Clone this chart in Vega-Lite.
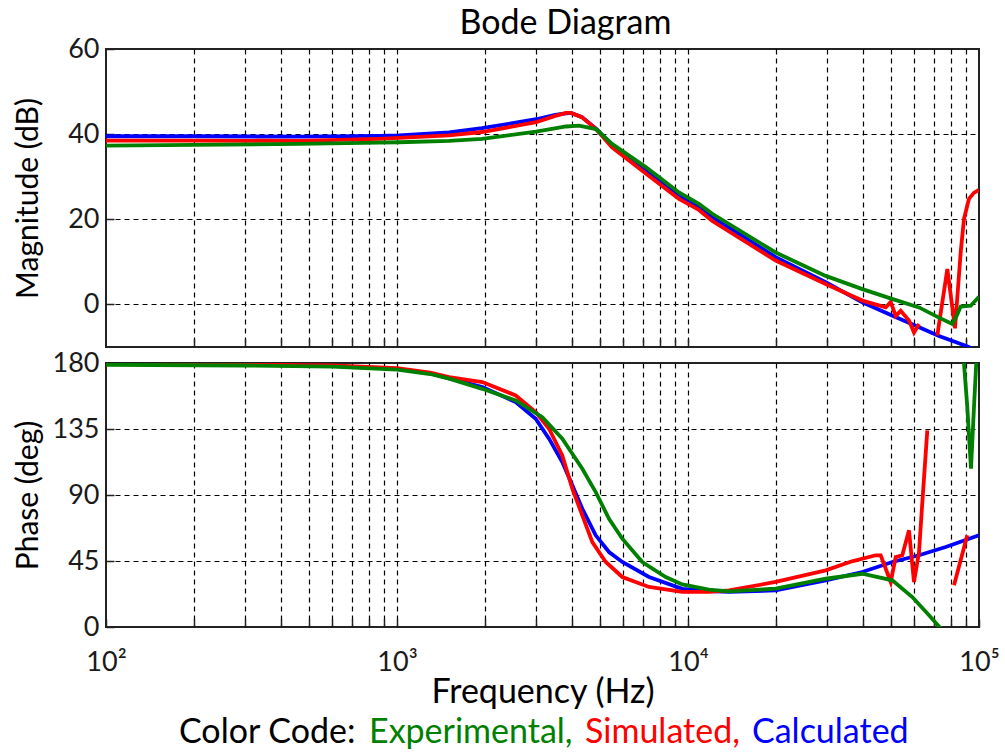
{
  "$schema": "https://vega.github.io/schema/vega-lite/v6.json",
  "padding": {"left": 11, "top": 6, "right": 20, "bottom": 2},
  "config": {
    "font": "Lato",
    "view": {"stroke": "#222", "strokeWidth": 2},
    "axis": {"labelFont": "Lato", "titleFont": "Lato", "labelColor": "#1a1a1a", "titleColor": "#000", "labelFontSize": 27, "titleFontSize": 30, "titleFontWeight": "normal", "gridColor": "#000", "gridDash": [5, 4], "gridWidth": 1.2, "domain": false, "ticks": true, "tickSize": -8, "tickColor": "#222", "tickWidth": 1.5}
  },
  "datasets": {
    "mag": [
      {"s":"Calculated","seg":"a","f":100,"v":39.5},{"s":"Calculated","seg":"a","f":200,"v":39.5},{"s":"Calculated","seg":"a","f":460,"v":39.4},{"s":"Calculated","seg":"a","f":867,"v":39.6},{"s":"Calculated","seg":"a","f":1016,"v":39.7},{"s":"Calculated","seg":"a","f":1510,"v":40.4},{"s":"Calculated","seg":"a","f":1960,"v":41.4},{"s":"Calculated","seg":"a","f":3005,"v":43.5},{"s":"Calculated","seg":"a","f":3500,"v":44.5},{"s":"Calculated","seg":"a","f":3810,"v":44.9},{"s":"Calculated","seg":"a","f":3963,"v":45.0},{"s":"Calculated","seg":"a","f":4320,"v":44.0},{"s":"Calculated","seg":"a","f":4830,"v":41.3},{"s":"Calculated","seg":"a","f":5480,"v":37.5},{"s":"Calculated","seg":"a","f":7180,"v":31.5},{"s":"Calculated","seg":"a","f":9310,"v":25.6},{"s":"Calculated","seg":"a","f":10900,"v":22.9},{"s":"Calculated","seg":"a","f":12120,"v":20.5},{"s":"Calculated","seg":"a","f":20010,"v":11.1},{"s":"Calculated","seg":"a","f":29730,"v":5.2},{"s":"Calculated","seg":"a","f":39720,"v":0.5},{"s":"Calculated","seg":"a","f":50230,"v":-2.6},{"s":"Calculated","seg":"a","f":60610,"v":-5.0},{"s":"Calculated","seg":"a","f":72860,"v":-7.4},{"s":"Calculated","seg":"a","f":90000,"v":-9.7},{"s":"Calculated","seg":"a","f":100000,"v":-11},
      {"s":"Simulated","seg":"a","f":100,"v":38.5},{"s":"Simulated","seg":"a","f":200,"v":38.5},{"s":"Simulated","seg":"a","f":460,"v":38.4},{"s":"Simulated","seg":"a","f":867,"v":38.9},{"s":"Simulated","seg":"a","f":1016,"v":39.1},{"s":"Simulated","seg":"a","f":1510,"v":39.7},{"s":"Simulated","seg":"a","f":1960,"v":40.5},{"s":"Simulated","seg":"a","f":3005,"v":42.8},{"s":"Simulated","seg":"a","f":3500,"v":44.3},{"s":"Simulated","seg":"a","f":3810,"v":45.0},{"s":"Simulated","seg":"a","f":3963,"v":45.0},{"s":"Simulated","seg":"a","f":4320,"v":44.0},{"s":"Simulated","seg":"a","f":4830,"v":41.2},{"s":"Simulated","seg":"a","f":5480,"v":36.9},{"s":"Simulated","seg":"a","f":7180,"v":30.7},{"s":"Simulated","seg":"a","f":9310,"v":24.8},{"s":"Simulated","seg":"a","f":10900,"v":22.2},{"s":"Simulated","seg":"a","f":12120,"v":19.6},{"s":"Simulated","seg":"a","f":20010,"v":10.3},{"s":"Simulated","seg":"a","f":29730,"v":4.8},{"s":"Simulated","seg":"a","f":39720,"v":0.9},{"s":"Simulated","seg":"a","f":47800,"v":-0.7},{"s":"Simulated","seg":"a","f":49730,"v":0.6},{"s":"Simulated","seg":"a","f":51720,"v":-2.7},{"s":"Simulated","seg":"a","f":53810,"v":-1.5},{"s":"Simulated","seg":"a","f":57470,"v":-3.8},{"s":"Simulated","seg":"a","f":59790,"v":-6.6},{"s":"Simulated","seg":"a","f":62220,"v":-4.6},
      {"s":"Simulated","seg":"b","f":71900,"v":-7.3},{"s":"Simulated","seg":"b","f":77840,"v":8.3},{"s":"Simulated","seg":"b","f":82700,"v":-5.6},{"s":"Simulated","seg":"b","f":86500,"v":12.2},{"s":"Simulated","seg":"b","f":88800,"v":20.1},{"s":"Simulated","seg":"b","f":92380,"v":24.8},{"s":"Simulated","seg":"b","f":96000,"v":26.2},{"s":"Simulated","seg":"b","f":100000,"v":26.9},
      {"s":"Experimental","seg":"a","f":100,"v":37.3},{"s":"Experimental","seg":"a","f":200,"v":37.5},{"s":"Experimental","seg":"a","f":460,"v":37.7},{"s":"Experimental","seg":"a","f":867,"v":38.0},{"s":"Experimental","seg":"a","f":1016,"v":38.1},{"s":"Experimental","seg":"a","f":1510,"v":38.4},{"s":"Experimental","seg":"a","f":1960,"v":38.9},{"s":"Experimental","seg":"a","f":3005,"v":40.6},{"s":"Experimental","seg":"a","f":3810,"v":41.8},{"s":"Experimental","seg":"a","f":4220,"v":42.0},{"s":"Experimental","seg":"a","f":4830,"v":41.2},{"s":"Experimental","seg":"a","f":5480,"v":37.7},{"s":"Experimental","seg":"a","f":7180,"v":32.2},{"s":"Experimental","seg":"a","f":9310,"v":26.3},{"s":"Experimental","seg":"a","f":10900,"v":23.6},{"s":"Experimental","seg":"a","f":12120,"v":21.3},{"s":"Experimental","seg":"a","f":20010,"v":12.2},{"s":"Experimental","seg":"a","f":29730,"v":6.7},{"s":"Experimental","seg":"a","f":39720,"v":3.6},{"s":"Experimental","seg":"a","f":50230,"v":1.3},{"s":"Experimental","seg":"a","f":62220,"v":-0.7},{"s":"Experimental","seg":"a","f":72860,"v":-3.1},{"s":"Experimental","seg":"a","f":80950,"v":-4.6},{"s":"Experimental","seg":"a","f":84000,"v":-2.5},{"s":"Experimental","seg":"a","f":86500,"v":-0.5},{"s":"Experimental","seg":"a","f":93660,"v":-0.3},{"s":"Experimental","seg":"a","f":100000,"v":1.8}
    ],
    "phase": [
      {"s":"Calculated","seg":"a","f":100,"v":179.5},{"s":"Calculated","seg":"a","f":300,"v":179},{"s":"Calculated","seg":"a","f":600,"v":178},{"s":"Calculated","seg":"a","f":1000,"v":176},{"s":"Calculated","seg":"a","f":1300,"v":173},{"s":"Calculated","seg":"a","f":1510,"v":169.5},{"s":"Calculated","seg":"a","f":1964,"v":163.6},{"s":"Calculated","seg":"a","f":2557,"v":153.4},{"s":"Calculated","seg":"a","f":2996,"v":142},{"s":"Calculated","seg":"a","f":3330,"v":128.4},{"s":"Calculated","seg":"a","f":3698,"v":112.5},{"s":"Calculated","seg":"a","f":4004,"v":96.6},{"s":"Calculated","seg":"a","f":4333,"v":80.6},{"s":"Calculated","seg":"a","f":4818,"v":62.5},{"s":"Calculated","seg":"a","f":5352,"v":51.1},{"s":"Calculated","seg":"a","f":5946,"v":44.3},{"s":"Calculated","seg":"a","f":7345,"v":34.1},{"s":"Calculated","seg":"a","f":9559,"v":26},{"s":"Calculated","seg":"a","f":11810,"v":24.5},{"s":"Calculated","seg":"a","f":13830,"v":23.9},{"s":"Calculated","seg":"a","f":20010,"v":25},{"s":"Calculated","seg":"a","f":29730,"v":31.8},{"s":"Calculated","seg":"a","f":39720,"v":37.5},{"s":"Calculated","seg":"a","f":50370,"v":44.3},{"s":"Calculated","seg":"a","f":62220,"v":48.9},{"s":"Calculated","seg":"a","f":76840,"v":54.5},{"s":"Calculated","seg":"a","f":100000,"v":62.5},
      {"s":"Simulated","seg":"a","f":100,"v":179.5},{"s":"Simulated","seg":"a","f":300,"v":179},{"s":"Simulated","seg":"a","f":600,"v":178.3},{"s":"Simulated","seg":"a","f":1000,"v":176.5},{"s":"Simulated","seg":"a","f":1300,"v":173.5},{"s":"Simulated","seg":"a","f":1510,"v":170.4},{"s":"Simulated","seg":"a","f":1964,"v":167},{"s":"Simulated","seg":"a","f":2557,"v":157.9},{"s":"Simulated","seg":"a","f":2996,"v":146.6},{"s":"Simulated","seg":"a","f":3330,"v":135.2},{"s":"Simulated","seg":"a","f":3698,"v":117},{"s":"Simulated","seg":"a","f":4004,"v":94.3},{"s":"Simulated","seg":"a","f":4333,"v":76.1},{"s":"Simulated","seg":"a","f":4691,"v":57.9},{"s":"Simulated","seg":"a","f":5215,"v":44.3},{"s":"Simulated","seg":"a","f":5946,"v":34.1},{"s":"Simulated","seg":"a","f":7345,"v":27.3},{"s":"Simulated","seg":"a","f":9559,"v":23.9},{"s":"Simulated","seg":"a","f":11810,"v":23.9},{"s":"Simulated","seg":"a","f":13830,"v":25},{"s":"Simulated","seg":"a","f":20010,"v":30.7},{"s":"Simulated","seg":"a","f":29730,"v":38.6},{"s":"Simulated","seg":"a","f":36610,"v":44.8},{"s":"Simulated","seg":"a","f":44160,"v":48.9},{"s":"Simulated","seg":"a","f":45940,"v":48.9},{"s":"Simulated","seg":"a","f":49730,"v":30.7},{"s":"Simulated","seg":"a","f":51720,"v":47.7},{"s":"Simulated","seg":"a","f":54500,"v":48.9},{"s":"Simulated","seg":"a","f":57470,"v":65.9},{"s":"Simulated","seg":"a","f":59790,"v":30.7},{"s":"Simulated","seg":"a","f":62220,"v":51.1},{"s":"Simulated","seg":"a","f":63870,"v":85.2},{"s":"Simulated","seg":"a","f":66430,"v":134},
      {"s":"Simulated","seg":"b","f":82060,"v":28.4},{"s":"Simulated","seg":"b","f":91150,"v":62.5},
      {"s":"Experimental","seg":"a","f":100,"v":178.8},{"s":"Experimental","seg":"a","f":300,"v":178.3},{"s":"Experimental","seg":"a","f":600,"v":177.5},{"s":"Experimental","seg":"a","f":1000,"v":175.5},{"s":"Experimental","seg":"a","f":1300,"v":172.5},{"s":"Experimental","seg":"a","f":1510,"v":169.3},{"s":"Experimental","seg":"a","f":1964,"v":162.4},{"s":"Experimental","seg":"a","f":2557,"v":154.5},{"s":"Experimental","seg":"a","f":3158,"v":143.1},{"s":"Experimental","seg":"a","f":3698,"v":128.4},{"s":"Experimental","seg":"a","f":4333,"v":107.9},{"s":"Experimental","seg":"a","f":4818,"v":92},{"s":"Experimental","seg":"a","f":5352,"v":73.8},{"s":"Experimental","seg":"a","f":5946,"v":60.2},{"s":"Experimental","seg":"a","f":6966,"v":44.3},{"s":"Experimental","seg":"a","f":8383,"v":34.1},{"s":"Experimental","seg":"a","f":9559,"v":29},{"s":"Experimental","seg":"a","f":11810,"v":25.5},{"s":"Experimental","seg":"a","f":13830,"v":24.3},{"s":"Experimental","seg":"a","f":20010,"v":26.1},{"s":"Experimental","seg":"a","f":29730,"v":32.9},{"s":"Experimental","seg":"a","f":39720,"v":36.3},{"s":"Experimental","seg":"a","f":50370,"v":31.8},{"s":"Experimental","seg":"a","f":58990,"v":20.4},{"s":"Experimental","seg":"a","f":67340,"v":8},{"s":"Experimental","seg":"a","f":73870,"v":-1},{"s":"Experimental","seg":"a","f":77000,"v":-6},
      {"s":"Experimental","seg":"b","f":88000,"v":190},{"s":"Experimental","seg":"b","f":91150,"v":150},{"s":"Experimental","seg":"b","f":93870,"v":108},{"s":"Experimental","seg":"b","f":96110,"v":150},{"s":"Experimental","seg":"b","f":98430,"v":190}
    ]
  },
  "spacing": 16,
  "bounds": "flush",
  "resolve": {"legend": {"color": "independent"}},
  "vconcat": [
    {
      "width": 873,
      "height": 298,
      "title": {"text": "Bode Diagram", "font": "Lato", "fontSize": 34, "fontWeight": "normal", "color": "#000", "anchor": "middle", "frame": "group", "dx": 23, "offset": -6},
      "data": {"name": "mag"},
      "mark": {"type": "line", "clip": true},
      "encoding": {
        "x": {"field": "f", "type": "quantitative", "scale": {"type": "log", "domain": [100, 100000], "nice": false},
              "axis": {"values": [200,300,400,500,600,700,800,900,1000,2000,3000,4000,5000,6000,7000,8000,9000,10000,20000,30000,40000,50000,60000,70000,80000,90000], "labels": false, "title": null, "grid": true}},
        "y": {"field": "v", "type": "quantitative", "scale": {"domain": [-10, 60], "nice": false, "zero": false},
              "axis": {"values": [0, 20, 40, 60], "title": "Magnitude (dB)", "titleX": -78, "titleY": 149, "titleAngle": -90, "titleAlign": "center", "titleBaseline": "middle", "labelPadding": 15, "grid": true,
                       "gridOpacity": {"condition": {"test": "datum.value >= 60", "value": 0}, "value": 1}}},
        "color": {"field": "s", "type": "nominal", "scale": {"domain": ["Experimental", "Simulated", "Calculated"], "range": ["#008000", "#ff0000", "#0000ff"]}, "legend": null},
        "strokeWidth": {"field": "s", "type": "nominal", "scale": {"domain": ["Experimental", "Simulated", "Calculated"], "range": [3.8, 3.8, 5]}, "legend": null},
        "detail": {"field": "seg"}
      }
    },
    {
      "width": 873,
      "height": 264,
      "data": {"name": "phase"},
      "mark": {"type": "line", "clip": true},
      "encoding": {
        "x": {"field": "f", "type": "quantitative", "scale": {"type": "log", "domain": [100, 100000], "nice": false},
              "axis": {"values": [100,200,300,400,500,600,700,800,900,1000,2000,3000,4000,5000,6000,7000,8000,9000,10000,20000,30000,40000,50000,60000,70000,80000,90000,100000],
                       "labelExpr": "datum.value == 100 ? '10²' : datum.value == 1000 ? '10³' : datum.value == 10000 ? '10⁴' : datum.value == 100000 ? '10⁵' : ''",
                       "labelOverlap": false, "labelFlush": false, "labelBound": false, "labelPadding": 30, "labelDx": 6,
                       "title": "Frequency (Hz)", "titleFontSize": 34, "titlePadding": 0, "grid": true,
                       "gridOpacity": {"condition": {"test": "datum.value <= 100 || datum.value >= 100000", "value": 0}, "value": 1}}},
        "y": {"field": "v", "type": "quantitative", "scale": {"domain": [0, 180], "nice": false, "zero": false},
              "axis": {"values": [0, 45, 90, 135, 180], "title": "Phase (deg)", "titleX": -78, "titleY": 132, "titleAngle": -90, "titleAlign": "center", "titleBaseline": "middle", "labelPadding": 15, "grid": true,
                       "gridOpacity": {"condition": {"test": "datum.value <= 0 || datum.value >= 180", "value": 0}, "value": 1}}},
        "color": {"field": "s", "type": "nominal", "scale": {"domain": ["Experimental", "Simulated", "Calculated"], "range": ["#008000", "#ff0000", "#0000ff"]},
                  "legend": {"orient": "none", "legendX": 73, "legendY": 353, "direction": "horizontal", "title": "Color Code:", "titleOrient": "left", "titleFont": "Lato", "titleFontSize": 34, "titleFontWeight": "normal", "titleColor": "#000", "titlePadding": 8,
                             "labelFont": "Lato", "labelFontSize": 34, "labelLimit": 0, "labelOffset": -30, "symbolSize": 0, "symbolStrokeWidth": 0, "symbolOpacity": 0, "columnPadding": 8,
                             "labelExpr": "datum.label + (datum.value == 'Calculated' ? '' : ',')",
                             "labelColor": {"expr": "datum.value == 'Experimental' ? '#008000' : datum.value == 'Simulated' ? '#ff0000' : '#0000ff'"}}},
        "strokeWidth": {"field": "s", "type": "nominal", "scale": {"domain": ["Experimental", "Simulated", "Calculated"], "range": [3.8, 3.8, 5]}, "legend": null},
        "detail": {"field": "seg"}
      }
    }
  ]
}
